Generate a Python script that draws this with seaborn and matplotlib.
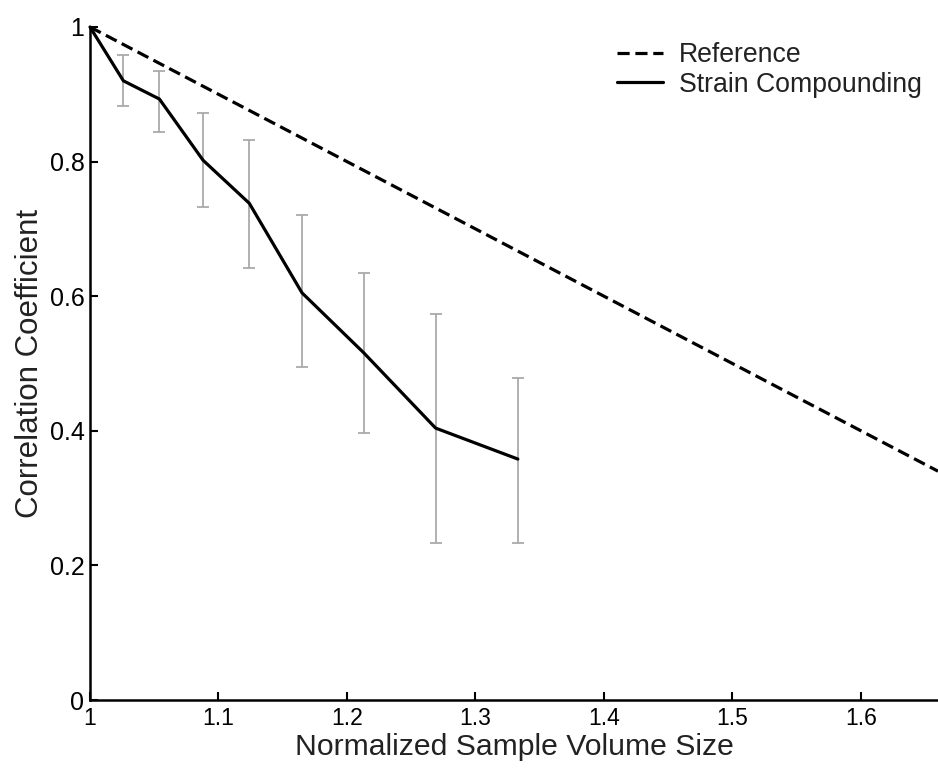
import matplotlib
matplotlib.use("Agg")
import matplotlib.pyplot as plt
import seaborn as sns
import numpy as np
import pandas as pd

# Data
sample_size = [1.0, 1.026, 1.054, 1.088, 1.124, 1.165, 1.213, 1.269, 1.333]
corr_mean = [1.0, 0.920, 0.893, 0.802, 0.738, 0.605, 0.516, 0.404, 0.358]
corr_upper = [1.0, 0.958, 0.935, 0.872, 0.832, 0.721, 0.634, 0.574, 0.478]
corr_lower = [1.0, 0.883, 0.844, 0.733, 0.642, 0.495, 0.397, 0.233, 0.233]

ref_size = [1.0, 1.66]
ref_corr = [1.0, 0.34]

x_ticks = [1.0, 1.1, 1.2, 1.3, 1.4, 1.5, 1.6]
x_tick_labels = ["1", "1.1", "1.2", "1.3", "1.4", "1.5", "1.6"]
y_ticks = [0, 0.2, 0.4, 0.6, 0.8, 1.0]
y_tick_labels = ["0", "0.2", "0.4", "0.6", "0.8", "1"]

sns.set_style("ticks")
plt.rcParams['font.family'] = ['Liberation Sans', 'DejaVu Sans']

fig = plt.figure(figsize=(9.38, 7.70), dpi=100)
ax = fig.add_axes([90/938, 1 - 700/770, 1 - 90/938, (700 - 27)/770])

df_ref = pd.DataFrame({"x": ref_size, "y": ref_corr})
df_sc = pd.DataFrame({"x": sample_size, "y": corr_mean})

# error bars (skip the first point, which has no spread)
xe = np.array(sample_size[1:])
ye = np.array(corr_mean[1:])
yerr = np.vstack([ye - np.array(corr_lower[1:]), np.array(corr_upper[1:]) - ye])
ax.errorbar(xe, ye, yerr=yerr, fmt="none", ecolor="#aaaaaa", elinewidth=1.3,
            capsize=4, capthick=1.3, zorder=1)

sns.lineplot(data=df_ref, x="x", y="y", ax=ax, color="black", linewidth=2.3,
             linestyle=(0, (3.8, 1.8)), label="Reference", zorder=3)
sns.lineplot(data=df_sc, x="x", y="y", ax=ax, color="black", linewidth=2.3,
             label="Strain Compounding", zorder=4, clip_on=False)

ax.set_xlim(1.0, 1.66)
ax.set_ylim(0, 1.0)
ax.set_xticks(x_ticks)
ax.set_xticklabels(x_tick_labels)
ax.set_yticks(y_ticks)
ax.set_yticklabels(y_tick_labels)
ax.set_xlabel("Normalized Sample Volume Size", fontsize=21.7, labelpad=2, color="#222222")
ax.set_ylabel("Correlation Coefficient", fontsize=22.5, labelpad=3, color="#222222")

ax.tick_params(direction="in", length=6, width=1.5, pad=5, colors="black")
ax.tick_params(axis="x", labelsize=16.5)
ax.tick_params(axis="y", labelsize=18, pad=4)
for side in ["top", "right"]:
    ax.spines[side].set_visible(False)
for side in ["left", "bottom"]:
    ax.spines[side].set_linewidth(1.8)
    ax.spines[side].set_color("black")

leg = ax.legend(loc="upper left", bbox_to_anchor=(604/938, 1 - 29/770),
                bbox_transform=fig.transFigure, frameon=False, fontsize=19.2,
                handlelength=1.7, handletextpad=0.6, borderpad=0, labelspacing=0.12)
for t in leg.get_texts():
    t.set_color("#222222")

fig.savefig("out.png", dpi=100)
